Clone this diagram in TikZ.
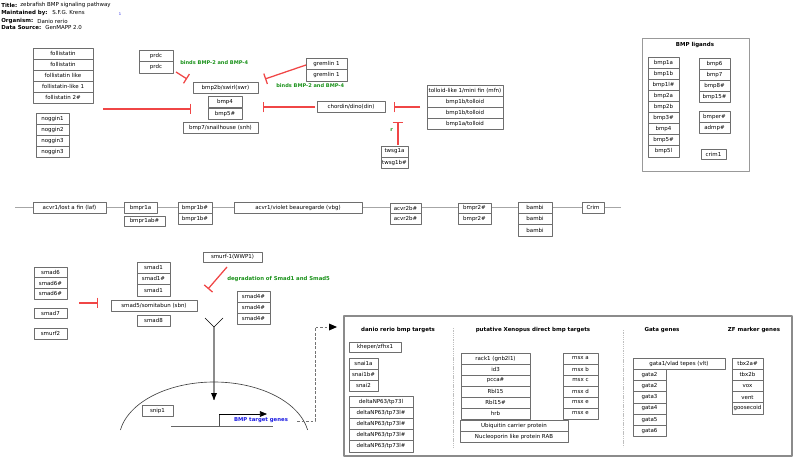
\documentclass[tikz,border=0pt]{standalone}
\usepackage{fontspec}
\setmainfont{DejaVu Sans}
\usetikzlibrary{arrows.meta}

\definecolor{inhred}{RGB}{240,70,70}
\definecolor{notegreen}{RGB}{25,145,25}
\definecolor{noteblue}{RGB}{25,25,225}
\definecolor{boxline}{RGB}{110,110,110}

\newcommand{\genefont}{\fontsize{3.9}{4.5}\selectfont}
\newcommand{\notefont}{\fontsize{3.6}{4.2}\selectfont\bfseries}

\tikzset{
  gene/.style={draw=boxline, fill=white, line width=0.45pt, inner sep=0pt, font=\genefont},
  inhibit/.style={draw=inhred, line width=0.9pt, -{Bar[width=7.8pt]}},
  note/.style={font=\notefont, text=notegreen, anchor=west, inner sep=0pt},
  head/.style={font=\genefont\bfseries, inner sep=0pt},
  info/.style={font=\genefont, anchor=west, inner sep=0pt},
}

% one box: name, x1, y1, x2, y2, label
\newcommand{\gbox}[6]{%
  \node[gene, minimum width={(#4-#2)*0.025cm}, minimum height={(#5-#3)*0.025cm}]
    (#1) at ({(#2+#4)/2},{(#3+#5)/2}) {#6};}
% a column of boxes: name, x1, y1, x2, row height, labels
\newcommand{\gstack}[6]{%
  \foreach \lab [count=\i] in {#6}{
    \node[gene, minimum width={(#4-#2)*0.025cm}, minimum height={#5*0.025cm}]
      (#1\i) at ({(#2+#4)/2},{#3+(\i-0.5)*#5}) {\lab};
  }}

\begin{document}
\begin{tikzpicture}[x=0.025cm, y=-0.025cm, line join=round, >=Latex]
    \useasboundingbox (0,0) rectangle (800,464);

    % header
    \node[info, font=\genefont\bfseries] (ttl) at (1,5) {Title:};
    \node[info] (ttlv) at (20,5) {zebrafish BMP signaling pathway};
    \node[info, font=\genefont\bfseries] (mnt) at (1,13) {Maintained by:};
    \node[info] (mntv) at (52,13) {S.F.G. Krens};
    \node[info, font=\genefont\bfseries] (org) at (1,21) {Organism:};
    \node[info] (orgv) at (37,21) {Danio rerio};
    \node[info, font=\genefont\bfseries] (src) at (1,28) {Data Source:};
    \node[info] (srcv) at (45,28) {GenMAPP 2.0};
    \node[font=\fontsize{2.6}{3}\selectfont, text=noteblue, inner sep=0pt] (one) at (120,14) {1};

    % antagonists
    \gstack{fol}{33}{48}{93}{11.1}{follistatin, follistatin, follistatin like, follistatin-like 1, follistatin 2\#}
    \gstack{nog}{36}{113}{69}{11}{noggin1, noggin2, noggin3, noggin3}
    \gstack{prdc}{139}{50}{173}{11.5}{prdc, prdc}
    \gbox{swr}{193}{82}{258}{93}{bmp2b/swirl(swr)}
    \gbox{bmpf}{208}{96}{242}{107}{bmp4}
    \gbox{bmpv}{208}{108}{242}{119}{bmp5\#}
    \gbox{snh}{183}{122}{258}{133}{bmp7/snailhouse (snh)}
    \gstack{grem}{306}{58}{347}{11.5}{gremlin 1, gremlin 1}
    \gbox{din}{317}{101}{385}{112}{chordin/dino(din)}
    \gstack{tll}{427}{85}{503}{11}{tolloid-like 1/mini fin (mfn), bmp1b/tolloid, bmp1b/tolloid, bmp1a/tolloid}
    \gstack{tsg}{381}{146}{408}{11}{twsg1a, twsg1b\#}

    \coordinate (folE) at (103,109);
    \coordinate (bmpW) at (191,109);
    \coordinate (prdcE) at (176,72);
    \coordinate (bmpNW) at (187,79);
    \coordinate (gremW) at (306,65);
    \coordinate (bmpNE) at (265,79);
    \coordinate (dinW) at (315,107);
    \coordinate (bmpE) at (263,107);
    \coordinate (tllW) at (420,107);
    \coordinate (dinE) at (394,107);
    \coordinate (tsgN) at (398,145);
    \coordinate (tsgT) at (398,122);
    \draw[inhibit] (folE) -- (bmpW);
    \draw[inhibit] (prdcE) -- (bmpNW);
    \draw[inhibit] (gremW) -- (bmpNE);
    \draw[inhibit] (dinW) -- (bmpE);
    \draw[inhibit] (tllW) -- (dinE);
    \draw[inhibit] (tsgN) -- (tsgT);
    \node[note] (bindA) at (180,63) {binds BMP-2 and BMP-4};
    \node[note] (bindB) at (276,86) {binds BMP-2 and BMP-4};
    \node[note] (tsgr) at (390,130) {r};

    % ligands
    \draw[draw=boxline!70, line width=0.6pt] (642,38) rectangle (749,171);
    \node[head] (lig) at (695,45) {BMP ligands};
    \gstack{ligl}{648}{57}{679}{11.1}{bmp1a, bmp1b, bmp1l\#, bmp2a, bmp2b, bmp3\#, bmp4, bmp5\#, bmp5l}
    \gstack{ligr}{699}{58}{730}{11.2}{bmp6, bmp7, bmp8\#, bmp15\#}
    \gstack{bper}{699}{111}{730}{11}{bmper\#, admp\#}
    \gbox{crimo}{701}{149}{726}{159}{crim1}

    % receptors
    \coordinate (memW) at (15,207);
    \coordinate (memE) at (621,207);
    \draw[black!35, line width=0.5pt] (memW) -- (memE);
    \gbox{laf}{33}{202}{106}{213}{acvr1/lost a fin (laf)}
    \gbox{rIa}{124}{202}{157}{213}{bmpr1a}
    \gbox{rIab}{124}{216}{165}{226}{bmpr1ab\#}
    \gstack{rIb}{178}{202}{212}{11}{bmpr1b\#, bmpr1b\#}
    \gbox{vbg}{234}{202}{362}{213}{acvr1/violet beauregarde (vbg)}
    \gstack{avr}{390}{203}{421}{10.5}{acvr2b\#, acvr2b\#}
    \gstack{rII}{458}{203}{491}{10.5}{bmpr2\#, bmpr2\#}
    \gstack{bambi}{518}{202}{552}{11.3}{bambi, bambi, bambi}
    \gbox{crim}{582}{202}{604}{213}{Crim}

    % smads
    \gstack{smsix}{34}{267}{67}{10.7}{smad6, smad6\#, smad6\#}
    \gbox{smseven}{34}{308}{67}{318}{smad7}
    \gbox{smurftwo}{34}{328}{67}{339}{smurf2}
    \gstack{smone}{137}{262}{170}{11.3}{smad1, smad1\#, smad1}
    \gbox{sbn}{111}{300}{197}{311}{smad5/somitabun (sbn)}
    \gbox{smeight}{137}{315}{170}{326}{smad8}
    \gbox{smurfone}{203}{252}{262}{262}{smurf-1(WWP1)}
    \gstack{smfour}{237}{291}{270}{11}{smad4\#, smad4\#, smad4\#}
    \coordinate (ismW) at (79,303);
    \coordinate (ismE) at (98,303);
    \coordinate (smfS) at (227,267);
    \coordinate (smfT) at (208,289);
    \draw[inhibit] (ismW) -- (ismE);
    \draw[inhibit] (smfS) -- (smfT);
    \node[note, font=\fontsize{3.8}{4.4}\selectfont\bfseries] (degr) at (227,279) {degradation of Smad1 and Smad5};

    % into the nucleus
    \coordinate (yL) at (205,318);
    \coordinate (yR) at (223,318);
    \coordinate (yM) at (214,327);
    \coordinate (yT) at (214,400);
    \draw[black, line width=0.45pt] (yL) -- (yM) -- (yR);
    \draw[black!45, line width=0.9pt] (yM) -- (yT);
    \fill[black] (yT) -- ++(-3,-7) -- ++(6,0) -- cycle;
    \draw[black!75, line width=0.45pt] plot[smooth, domain=170:10, samples=40] ({214+95*cos(\x)},{440-58*sin(\x)});
    \gbox{snip}{142}{405}{173}{416}{snip1}
    \coordinate (gnW) at (171,426);
    \coordinate (gnE) at (273,426);
    \coordinate (tss) at (219,426);
    \coordinate (tssT) at (219,414);
    \coordinate (tssA) at (267,414);
    \draw[black!60, line width=0.45pt] (gnW) -- (gnE);
    \draw[black!70, line width=0.45pt] (tss) -- (tssT);
    \draw[black, line width=0.45pt, -{Triangle[length=5pt, width=4pt]}] (tssT) -- (tssA);
    \node[font=\fontsize{3.8}{4.4}\selectfont\bfseries, text=noteblue, inner sep=0pt] (tgt) at (261,420) {BMP target genes};
    \coordinate (dsA) at (297,421);
    \coordinate (dsB) at (315,421);
    \coordinate (dsC) at (315,327);
    \coordinate (dsD) at (337,327);
    \draw[black!55, dashed, line width=0.45pt, dash pattern=on 2pt off 1.2pt] (dsA) -- (dsB) -- (dsC) -- ([xshift=-5pt]dsD);
    \fill[black] (dsD) -- ++(-8,-3.5) -- ++(0,7) -- cycle;

    % target genes
    \draw[draw=boxline!80, line width=0.8pt] (344,316) rectangle (792,456);
    \draw[black!25, line width=0.6pt, dash pattern=on 1pt off 0.6pt] (453,328) -- (453,448);
    \draw[black!25, line width=0.6pt, dash pattern=on 1pt off 0.6pt] (623,330) -- (623,447);
    \node[head] (hdr) at (398,330) {danio rerio bmp targets};
    \node[head] (hxe) at (533,330) {putative Xenopus direct bmp targets};
    \node[head] (hga) at (662,330) {Gata genes};
    \node[head] (hzf) at (754,330) {ZF marker genes};
    \gbox{khp}{349}{342}{401}{352}{kheper/zfhx1}
    \gstack{snai}{349}{358}{378}{11}{snai1a, snai1b\#, snai2}
    \gstack{dnp}{349}{396}{413}{11.2}{deltaNP63/tp73l, deltaNP63/tp73l\#, deltaNP63/tp73l\#, deltaNP63/tp73l\#, deltaNP63/tp73l\#}
    \gstack{xen}{461}{353}{530}{11}{rack1 (gnb2l1), id3, pcca\#, Rbl15, Rbl15\#, hrb}
    \gstack{msx}{563}{353}{598}{11}{msx a, msx b, msx c, msx d, msx e, msx e}
    \gstack{prot}{460}{420}{568}{11}{Ubiquitin carrier protein, Nucleoporin like protein RAB}
    \gbox{vlt}{633}{358}{725}{369}{gata1/vlad tepes (vlt)}
    \gstack{gata}{633}{369}{666}{11.3}{gata2, gata2, gata3, gata4, gata5, gata6}
    \gstack{zfm}{732}{358}{763}{11.2}{tbx2a\#, tbx2b, vox, vent, goosecoid}
\end{tikzpicture}
\end{document}
